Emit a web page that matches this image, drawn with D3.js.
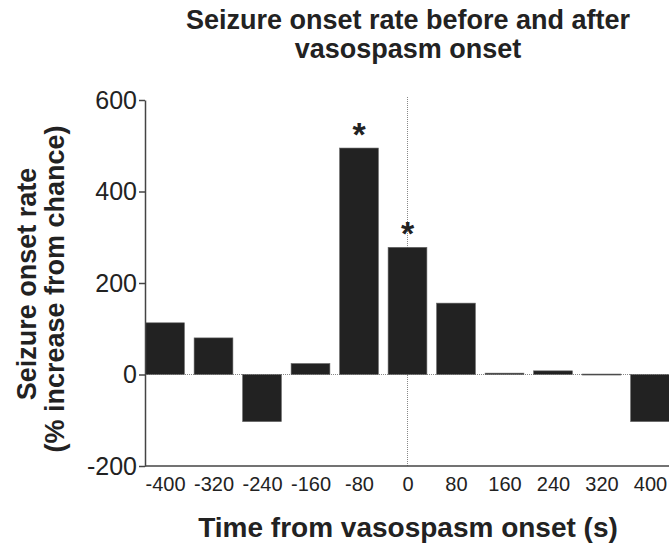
<!DOCTYPE html>
<html>
<head>
<meta charset="utf-8">
<script src="https://cdn.jsdelivr.net/npm/d3@7"></script>
<style>
  body { margin: 0; background: #fff; }
  text { font-family: "Liberation Sans", Arial, sans-serif; fill: #222; }
</style>
</head>
<body>
<div id="chart-area"></div>
<script>
// DATA -----------------------------------------------------------
var times = [-400, -320, -240, -160, -80, 0, 80, 160, 240, 320, 400];
var rates = [113, 80, -103, 24, 495, 278, 156, 3, 8, 1, -103];
var starred = [-80, 0];
var yTicks = [-200, 0, 200, 400, 600];

var W = 669, H = 547;

var svg = d3.select("#chart-area").append("svg")
    .attr("width", W)
    .attr("height", H);

// SCALES ---------------------------------------------------------
var x = d3.scaleLinear()
    .domain([-433, 433])
    .range([145, 670]);
var y = d3.scaleLinear()
    .domain([-200, 600])
    .range([466, 100]);
var halfBar = 32;

// ZERO LINE + VERTICAL REFERENCE ---------------------------------
svg.append("line")
    .attr("x1", x(-433)).attr("x2", W)
    .attr("y1", y(0)).attr("y2", y(0))
    .attr("stroke", "#888")
    .attr("stroke-width", 1)
    .attr("stroke-dasharray", "1,1");
svg.append("line")
    .attr("x1", x(0)).attr("x2", x(0))
    .attr("y1", y(600) - 3).attr("y2", y(-200))
    .attr("stroke", "#888")
    .attr("stroke-width", 1)
    .attr("stroke-dasharray", "1,1");

// BARS -----------------------------------------------------------
var bars = times.map((t, i) => ({ t: t, v: rates[i] }));
svg.append("g").selectAll("rect")
    .data(bars)
    .enter().append("rect")
    .attr("x", d => x(d.t - halfBar))
    .attr("width", d => x(d.t + halfBar) - x(d.t - halfBar))
    .attr("y", d => y(Math.max(0, d.v)))
    .attr("height", d => Math.max(1, Math.abs(y(d.v) - y(0))))
    .attr("fill", "#222")
    .attr("stroke", "#666")
    .attr("stroke-width", 0.6);

// STARS ----------------------------------------------------------
svg.append("g").selectAll("text")
    .data(bars.filter(d => starred.indexOf(d.t) >= 0))
    .enter().append("text")
    .attr("x", d => x(d.t))
    .attr("y", d => y(d.v) - 2)
    .attr("text-anchor", "middle")
    .attr("font-size", "34px")
    .attr("font-weight", "bold")
    .text("*");

// AXES -----------------------------------------------------------
var plain = d => String(d); // keep ASCII hyphen for negatives

var yAxis = svg.append("g")
    .attr("transform", "translate(" + x(-433) + ",0)")
    .call(d3.axisLeft(y).tickValues(yTicks).tickFormat(plain).tickSize(6).tickSizeOuter(0).tickPadding(2));
yAxis.selectAll("text").attr("font-size", "25px").style("font-family", "Liberation Sans, Arial, sans-serif").attr("fill", "#222");

var xAxis = svg.append("g")
    .attr("transform", "translate(0," + y(-200) + ")")
    .call(d3.axisBottom(x).tickValues(times).tickFormat(plain).tickSize(0).tickSizeOuter(0).tickPadding(11));
xAxis.select(".domain").attr("d", "M" + x(-433) + ",0H" + W);
xAxis.selectAll("text").attr("font-size", "20px").style("font-family", "Liberation Sans, Arial, sans-serif").attr("fill", "#222");

svg.selectAll(".domain, .tick line").attr("stroke", "#444").attr("stroke-width", 1.5);

// TITLES ---------------------------------------------------------
svg.append("text")
    .attr("x", 408).attr("y", 29)
    .attr("text-anchor", "middle")
    .attr("font-size", "27px").attr("font-weight", "bold")
    .text("Seizure onset rate before and after");
svg.append("text")
    .attr("x", 408).attr("y", 58)
    .attr("text-anchor", "middle")
    .attr("font-size", "27px").attr("font-weight", "bold")
    .text("vasospasm onset");

svg.append("text")
    .attr("x", 408).attr("y", 537)
    .attr("text-anchor", "middle")
    .attr("font-size", "28px").attr("font-weight", "bold")
    .text("Time from vasospasm onset (s)");

svg.append("text")
    .attr("transform", "translate(36,284) rotate(-90)")
    .attr("text-anchor", "middle")
    .attr("font-size", "27px").attr("font-weight", "bold")
    .text("Seizure onset rate");
svg.append("text")
    .attr("transform", "translate(64,289) rotate(-90)")
    .attr("text-anchor", "middle")
    .attr("font-size", "27px").attr("font-weight", "bold")
    .text("(% increase from chance)");
</script>
</body>
</html>
